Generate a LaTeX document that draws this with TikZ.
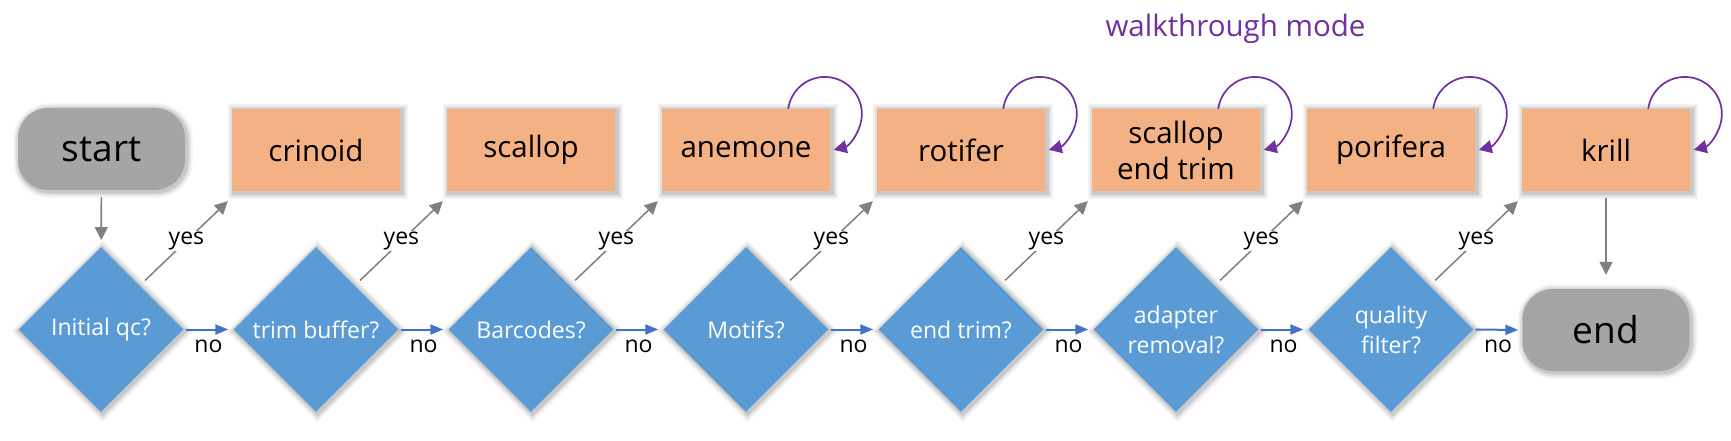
\documentclass[tikz,border=0pt]{standalone}
\usepackage{fontspec}
\setmainfont{Open Sans}
\usetikzlibrary{shapes.geometric,arrows.meta,calc}
\definecolor{boxfill}{RGB}{244,177,131}
\definecolor{dfill}{RGB}{91,155,213}
\definecolor{tfill}{RGB}{165,165,165}
\definecolor{purp}{RGB}{112,48,160}
\definecolor{noblue}{RGB}{68,114,196}
\definecolor{arrgray}{RGB}{128,128,128}
\tikzset{
 shad/.style={
   preaction={draw=black, draw opacity=0.05, line width=12pt, transform canvas={shift={(1.5pt,-1.5pt)}}},
   preaction={draw=black, draw opacity=0.07, line width=8pt, transform canvas={shift={(1.5pt,-1.5pt)}}},
   preaction={draw=black, draw opacity=0.10, line width=4pt, transform canvas={shift={(1.5pt,-1.5pt)}}}},
 term/.style={shad, rectangle, rounded corners=30pt, fill=tfill, minimum width=167pt, minimum height=82pt, inner sep=0pt, font=\fontsize{37}{44}\selectfont},
 proc/.style={shad, rectangle, fill=boxfill, minimum width=168pt, minimum height=82pt, inner sep=0pt, align=center, font=\fontsize{29.5}{36}\selectfont},
 dec/.style={shad, diamond, shape aspect=1, fill=dfill, minimum width=165pt, minimum height=165pt, inner sep=0pt, align=center, text=white, font=\fontsize{23}{30}\selectfont},
 grayarrow/.style={draw=arrgray, line width=1.7pt, -{Triangle[length=13pt,width=13pt]}},
 yesarrow/.style={draw=arrgray, line width=1.5pt, -{Triangle[length=13pt,width=13pt]}},
 noarrow/.style={draw=noblue, line width=2pt, -{Triangle[length=13pt,width=10pt]}, shorten <=2pt, shorten >=5pt},
 looparrow/.style={draw=purp, line width=1.7pt, -{Triangle[length=13pt,width=13pt]}},
 yeslab/.style={fill=white, inner sep=1pt, font=\fontsize{23}{28}\selectfont},
 nolab/.style={below=9pt, inner sep=0pt, font=\fontsize{23}{28}\selectfont},
}
\begin{document}
\begin{tikzpicture}[x=1pt,y=1pt]
\useasboundingbox (0,0) rectangle (1731,440);
\fill[white] (0,0) rectangle (1731,440);
% title
\node[anchor=base, text=purp, font=\fontsize{29.5}{36}\selectfont, inner sep=0pt] (wt) at (1235.5,403.3) {walkthrough mode};
% top row
\node[term] (start) at (101.5,291) {start};
\node[proc] (b1) at (316,290) {crinoid};
\node[proc] (b2) at (531,290) {scallop};
\node[proc] (b3) at (746,290) {anemone};
\node[proc] (b4) at (961,290) {rotifer};
\node[proc] (b5) at (1176,290) {scallop\\end trim};
\node[proc] (b6) at (1391,290) {porifera};
\node[proc] (b7) at (1606,290) {krill};
% bottom row
\node[dec] (d0) at (101,110.5) {Initial qc?};
\node[dec] (d1) at (316,110.5) {trim buffer?};
\node[dec] (d2) at (531,110.5) {Barcodes?};
\node[dec] (d3) at (746,110.5) {Motifs?};
\node[dec] (d4) at (961,110.5) {end trim?};
\node[dec] (d5) at (1176,110.5) {adapter\\removal?};
\node[dec] (d6) at (1391,110.5) {quality\\filter?};
\node[term] (endn) at (1606,110) {end};
% vertical arrows
\draw[grayarrow, shorten <=7pt, shorten >=7pt] (start) -- (d0);
\draw[grayarrow, shorten <=7pt, shorten >=14pt] (b7) -- (endn);
% no arrows
\draw[noarrow] (d0.east) -- node[nolab]{no} (d1.west);
\draw[noarrow] (d1.east) -- node[nolab]{no} (d2.west);
\draw[noarrow] (d2.east) -- node[nolab]{no} (d3.west);
\draw[noarrow] (d3.east) -- node[nolab]{no} (d4.west);
\draw[noarrow] (d4.east) -- node[nolab]{no} (d5.west);
\draw[noarrow] (d5.east) -- node[nolab]{no} (d6.west);
\draw[noarrow, shorten >=4pt] (d6.east) -- node[nolab]{no} (endn.west);
% yes arrows
\draw[yesarrow] ($(d0.center)+(44,49)$) -- node[yeslab]{yes} ($(b1.south west)+(-4,-10)$);
\draw[yesarrow] ($(d1.center)+(44,49)$) -- node[yeslab]{yes} ($(b2.south west)+(-4,-10)$);
\draw[yesarrow] ($(d2.center)+(44,49)$) -- node[yeslab]{yes} ($(b3.south west)+(-4,-10)$);
\draw[yesarrow] ($(d3.center)+(44,49)$) -- node[yeslab]{yes} ($(b4.south west)+(-4,-10)$);
\draw[yesarrow] ($(d4.center)+(44,49)$) -- node[yeslab]{yes} ($(b5.south west)+(-4,-10)$);
\draw[yesarrow] ($(d5.center)+(44,49)$) -- node[yeslab]{yes} ($(b6.south west)+(-4,-10)$);
\draw[yesarrow] ($(d6.center)+(44,49)$) -- node[yeslab]{yes} ($(b7.south west)+(-4,-10)$);
% self loops
\draw[looparrow] ($(b3.north east)+(-42,0)$) arc[start angle=172, end angle=-76, radius=37];
\draw[looparrow] ($(b4.north east)+(-42,0)$) arc[start angle=172, end angle=-76, radius=37];
\draw[looparrow] ($(b5.north east)+(-42,0)$) arc[start angle=172, end angle=-76, radius=37];
\draw[looparrow] ($(b6.north east)+(-42,0)$) arc[start angle=172, end angle=-76, radius=37];
\draw[looparrow] ($(b7.north east)+(-42,0)$) arc[start angle=172, end angle=-76, radius=37];
\end{tikzpicture}
\end{document}
